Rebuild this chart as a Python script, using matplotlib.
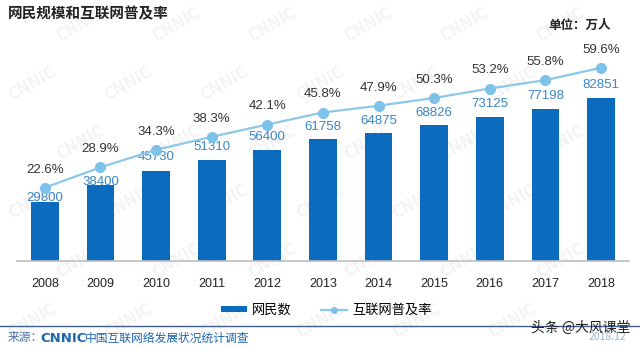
import numpy as np
import matplotlib
matplotlib.use("Agg")
import matplotlib.pyplot as plt
from matplotlib.lines import Line2D
from matplotlib.patches import Patch

plt.rcParams['font.family'] = ['Noto Sans CJK SC', 'DejaVu Sans']

# data
years = ['2008', '2009', '2010', '2011', '2012', '2013', '2014', '2015', '2016', '2017', '2018']
netizens = [29800, 38400, 45730, 51310, 56400, 61758, 64875, 68826, 73125, 77198, 82851]
rate = [22.6, 28.9, 34.3, 38.3, 42.1, 45.8, 47.9, 50.3, 53.2, 55.8, 59.6]

# label gap above bar (points); first two sit lower, under the line
bar_pad = [3, 2.5, 10, 9, 9, 9, 9, 9, 9, 9, 9]

bar_color = '#0B6BBE'
line_color = '#8CC8EA'
label_blue = '#3A86C8'

fig = plt.figure(figsize=(6.4, 3.48), dpi=100)
fig.patch.set_facecolor('white')

# faint diagonal watermark in a background axes
bg = fig.add_axes([0, 0, 1, 1], zorder=-5)
bg.set_xlim(0, 1)
bg.set_ylim(0, 1)
bg.axis('off')
for row, yy in enumerate(np.arange(0.08, 0.95, 0.17)):
    off = 0.075 if row % 2 else 0
    for xx in np.arange(0.05, 0.95, 0.15):
        bg.text(xx + off, yy, 'CNNIC', fontsize=12, fontweight='bold', color='#F3F3F3',
                rotation=30, ha='center', va='center')

ax = fig.add_axes([0.0266, 0.25, 0.956, 0.5776])
ax.set_facecolor('none')
x = np.arange(len(years))
bars = ax.bar(x, netizens, width=0.5, color=bar_color, zorder=2)
ax.set_xlim(-0.5, len(years) - 0.5)
ax.set_ylim(0, 102000)
for i, v in enumerate(netizens):
    ax.annotate(str(v), (x[i], v), xytext=(0, bar_pad[i]), textcoords='offset points',
                ha='center', va='center', fontsize=9.5, color=label_blue,
                family=['Liberation Sans', 'DejaVu Sans'], zorder=5)

ax.set_xticks(x)
ax.set_xticklabels(years, fontsize=9, color='#222222', family=['Liberation Sans', 'DejaVu Sans'])
ax.tick_params(axis='x', length=0, pad=12)
ax.set_yticks([])
for s in ['top', 'right', 'left']:
    ax.spines[s].set_visible(False)
ax.spines['bottom'].set_color('#BFBFBF')
ax.spines['bottom'].set_linewidth(1.2)

ax2 = ax.twinx()
ax2.set_ylim(0, 62)
ax2.plot(x, rate, color=line_color, lw=1.6, marker='o', markersize=7,
         markerfacecolor='#7EC2EA', markeredgecolor='#7EC2EA', zorder=3)
for i, v in enumerate(rate):
    ax2.annotate('%.1f%%' % v, (x[i], v), xytext=(0, 13), textcoords='offset points',
                 ha='center', va='center', fontsize=9.5, color='#333333',
                 family=['Liberation Sans', 'DejaVu Sans'])
ax2.set_yticks([])
for s in ['top', 'right', 'left', 'bottom']:
    ax2.spines[s].set_visible(False)

# title and unit
fig.text(0.012, 0.963, '网民规模和互联网普及率', fontsize=10.5, fontweight='bold',
         color='#222222', ha='left', va='center')
fig.text(0.955, 0.928, '单位：万人', fontsize=9, fontweight='bold', color='#222222',
         ha='right', va='center')

# legend
handles = [Patch(facecolor=bar_color, label='网民数'),
           Line2D([0], [0], color=line_color, lw=1.6, marker='o', markersize=4,
                  markerfacecolor='#7EC2EA', markeredgecolor='#7EC2EA', label='互联网普及率')]
fig.legend(handles=handles, loc='center', bbox_to_anchor=(0.51, 0.108), ncol=2,
           frameon=False, fontsize=9.5, handlelength=2.0, handleheight=0.35,
           columnspacing=2.2, handletextpad=0.4)

# footer
fig.add_artist(Line2D([0, 1], [1 - 326 / 348] * 2, color='#3F5E8C', lw=1.0))
fy = 1 - 338 / 348
fig.text(0.012, fy, '来源：', fontsize=8.5, color='#4A6FA5', ha='left', va='center')
fig.text(0.063, fy, 'CNNIC', fontsize=9.5, fontweight='bold', color='#1F67B1',
         ha='left', va='center', family=['DejaVu Sans'])
fig.text(0.132, fy, '中国互联网络发展状况统计调查', fontsize=8.5, color='#1F67B1',
         ha='left', va='center')
fig.text(0.978, 1 - 337 / 348, '2018.12', fontsize=7.5, color='#9DB3CF', ha='right', va='center')
fig.text(0.985, 1 - 328 / 348, '头条 @大风课堂', fontsize=10, color='#222222', ha='right',
         va='center')

fig.savefig('out.png', dpi=100)
